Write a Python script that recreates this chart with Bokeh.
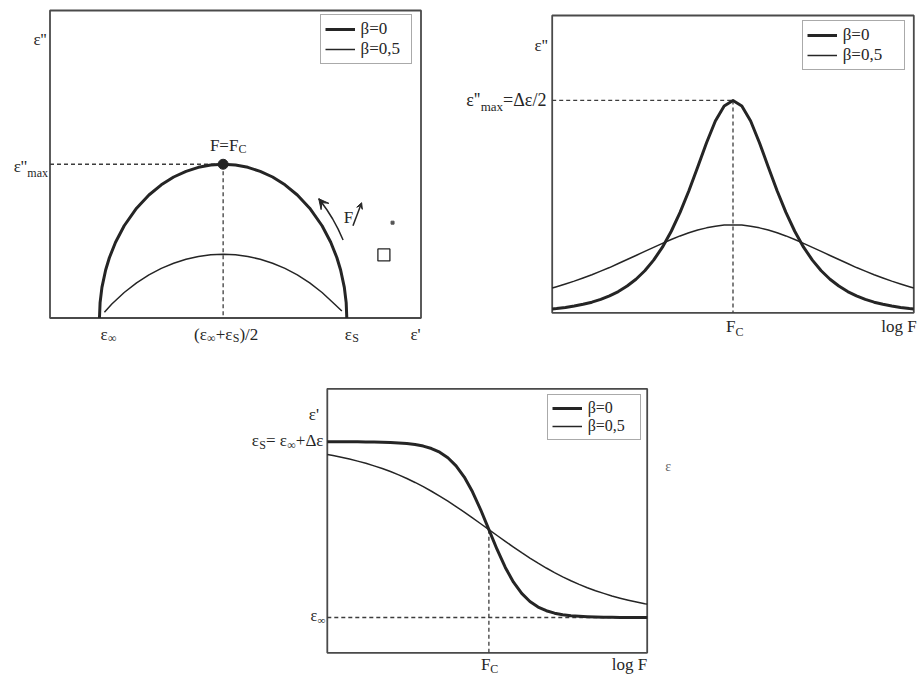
from bokeh.plotting import figure
from bokeh.models import Range1d, Label, Arrow, VeeHead, Spacer
from bokeh.layouts import column, row
from bokeh.embed import file_html
from bokeh.resources import INLINE

FONT = "Liberation Serif"
INK = "#252525"
TXT = "#262626"
FRAME = "#4a4a4a"
DASH = "#3c3c3c"

# ---------------- Panel 1 : Cole-Cole plot (eps'' vs eps') ----------------
eps_inf = 1.0
eps_s = 3.0
eps2_max = 1.0
cc_eps1_b0 = [1.00, 1.005, 1.02, 1.05, 1.08, 1.13, 1.20, 1.30, 1.40, 1.50, 1.60, 1.70, 1.80, 1.90, 2.00,
              2.10, 2.20, 2.30, 2.40, 2.50, 2.60, 2.70, 2.80, 2.87, 2.92, 2.95, 2.98, 2.995, 3.00]
cc_eps2_b0 = [0.000, 0.100, 0.199, 0.312, 0.392, 0.493, 0.600, 0.714, 0.800, 0.866, 0.917, 0.954, 0.980, 0.995, 1.000,
              0.995, 0.980, 0.954, 0.917, 0.866, 0.800, 0.714, 0.600, 0.493, 0.392, 0.312, 0.199, 0.100, 0.000]
cc_eps1_b05 = [1.04, 1.10, 1.20, 1.30, 1.40, 1.50, 1.60, 1.70, 1.80, 1.90, 2.00,
               2.10, 2.20, 2.30, 2.40, 2.50, 2.60, 2.70, 2.80, 2.90, 2.96]
cc_eps2_b05 = [0.038, 0.091, 0.166, 0.229, 0.281, 0.323, 0.356, 0.382, 0.400, 0.411, 0.414,
               0.411, 0.400, 0.382, 0.356, 0.323, 0.281, 0.229, 0.166, 0.091, 0.045]
arrow_eps1 = [2.970, 2.929, 2.886, 2.839, 2.788, 2.773]
arrow_eps2 = [0.507, 0.580, 0.644, 0.704, 0.761, 0.776]
f_arrow = [3.05, 0.60, 3.12, 0.75]
f_label = [2.975, 0.655]
square_mark = [3.30, 0.41]
tiny_mark = [3.37, 0.62]

# ---------------- Panel 2 : eps'' vs log F ----------------
logF2 = [-2.05, -2.0, -1.9, -1.8, -1.7, -1.6, -1.5, -1.4, -1.3, -1.2, -1.1, -1.0, -0.9, -0.8, -0.7, -0.6, -0.5,
         -0.4, -0.3, -0.2, -0.1, 0.0, 0.1, 0.2, 0.3, 0.4, 0.5, 0.6, 0.7, 0.8, 0.9, 1.0, 1.1, 1.2, 1.3, 1.4,
         1.5, 1.6, 1.7, 1.8, 1.9, 2.0, 2.05]
loss_b0 = [0.018, 0.020, 0.025, 0.032, 0.040, 0.050, 0.063, 0.080, 0.100, 0.126, 0.158, 0.198, 0.248, 0.309,
           0.384, 0.473, 0.575, 0.687, 0.801, 0.903, 0.974, 1.000, 0.974, 0.903, 0.801, 0.687, 0.575, 0.473,
           0.384, 0.309, 0.248, 0.198, 0.158, 0.126, 0.100, 0.080, 0.063, 0.050, 0.040, 0.032, 0.025, 0.020, 0.018]
loss_b05 = [0.117, 0.123, 0.136, 0.149, 0.164, 0.179, 0.196, 0.213, 0.232, 0.251, 0.270, 0.289, 0.308, 0.327,
            0.345, 0.362, 0.377, 0.390, 0.400, 0.408, 0.413, 0.414, 0.413, 0.408, 0.400, 0.390, 0.377, 0.362,
            0.345, 0.327, 0.308, 0.289, 0.270, 0.251, 0.232, 0.213, 0.196, 0.179, 0.164, 0.149, 0.136, 0.123, 0.117]

# ---------------- Panel 3 : eps' vs log F ----------------
logF3 = [-1.97, -1.9, -1.8, -1.7, -1.6, -1.5, -1.4, -1.3, -1.2, -1.1, -1.0, -0.9, -0.8, -0.7, -0.6, -0.5,
         -0.4, -0.3, -0.2, -0.1, 0.0, 0.1, 0.2, 0.3, 0.4, 0.5, 0.6, 0.7, 0.8, 0.9, 1.0, 1.1, 1.2, 1.3, 1.4,
         1.5, 1.6, 1.7, 1.8, 1.9, 1.93]
real_b0 = [3.000, 3.000, 2.999, 2.999, 2.999, 2.998, 2.997, 2.995, 2.992, 2.987, 2.980, 2.969, 2.951, 2.923,
           2.881, 2.818, 2.726, 2.598, 2.431, 2.226, 2.000, 1.774, 1.569, 1.402, 1.274, 1.182, 1.119, 1.077,
           1.049, 1.031, 1.020, 1.013, 1.008, 1.005, 1.003, 1.002, 1.001, 1.001, 1.001, 1.000, 1.000]
real_b05 = [2.855, 2.843, 2.824, 2.803, 2.780, 2.755, 2.726, 2.695, 2.661, 2.623, 2.582, 2.537, 2.489, 2.437,
            2.382, 2.324, 2.263, 2.199, 2.134, 2.067, 2.000, 1.933, 1.866, 1.801, 1.737, 1.676, 1.618, 1.563,
            1.511, 1.463, 1.418, 1.377, 1.339, 1.305, 1.274, 1.245, 1.220, 1.197, 1.176, 1.157, 1.152]
eps_s3 = 3.0
eps_inf3 = 1.0

legend_labels = ["\u03b2=0", "\u03b2=0,5"]

# approximate advance widths (em) of Liberation Serif
W = {"\u03b5": 0.44, "'": 0.18, "m": 0.778, "a": 0.444, "x": 0.5, "=": 0.564, "\u0394": 0.612,
     "/": 0.278, "2": 0.5, "(": 0.333, ")": 0.333, "+": 0.564, "\u221e": 0.713, "S": 0.556,
     "C": 0.667, "F": 0.556, " ": 0.25, "l": 0.278, "o": 0.5, "g": 0.5}


def tw(s, size):
    return sum(W.get(c, 0.5) for c in s) * size


def rich(p, x, y, parts, dx=0.0, dy=0.0, align="left", color=TXT):
    widths = [tw(t, s) for t, s, _ in parts]
    total = sum(widths)
    if align == "right":
        cur = dx - total
    elif align == "center":
        cur = dx - total / 2.0
    else:
        cur = dx
    for (t, s, sh), w in zip(parts, widths):
        p.add_layout(Label(x=x, y=y, x_offset=cur, y_offset=dy + sh, text=t, text_font=FONT,
                           text_font_size=f"{s}px", text_color=color, text_align="left",
                           text_baseline="alphabetic"))
        cur += w


def outer(lo, hi, a, b, size):
    # extend the panel's box range [lo, hi] (drawn from pixel a to b) to the whole canvas
    s = (hi - lo) / (b - a)
    return (lo - a * s, lo + (size - a) * s)


def make_fig(w, h, xbox, ybox, box_px):
    left, right, top, bottom = box_px
    xr = outer(xbox[0], xbox[1], left, right, w)
    yr = outer(ybox[0], ybox[1], h - bottom, h - top, h)
    p = figure(width=w, height=h, x_range=Range1d(*xr), y_range=Range1d(*yr), title=None,
               output_backend="svg", toolbar_location=None, x_axis_location=None, y_axis_location=None,
               min_border=0)
    p.outline_line_color = None
    p.background_fill_color = "white"
    p.border_fill_color = "white"
    p.grid.visible = False
    p.quad(left=[xbox[0]], right=[xbox[1]], bottom=[ybox[0]], top=[ybox[1]], fill_color=None,
           line_color=FRAME, line_width=1.8)
    return p


def style_legend(p, loc, font_size, label_width, pad, item_h, spacing):
    lg = p.legend[0]
    lg.location = loc
    lg.label_text_font = FONT
    lg.label_text_font_size = font_size
    lg.label_text_color = TXT
    lg.border_line_color = "#555555"
    lg.border_line_width = 1.2
    lg.background_fill_color = "white"
    lg.background_fill_alpha = 1.0
    lg.padding = pad
    lg.spacing = spacing
    lg.margin = 0
    lg.glyph_width = 30
    lg.glyph_height = item_h
    lg.label_height = item_h
    lg.label_width = label_width
    lg.label_standoff = 6


# ================= Panel 1 =================
x1b = (0.6, 3.6)
y1b = (0.0, 2.0)
p1 = make_fig(460, 350, x1b, y1b, (49.5, 420.5, 10, 317.5))
p1.line([x1b[0], 2.0], [eps2_max, eps2_max], line_dash="4 3", line_width=1.3, color=DASH)
p1.line([2.0, 2.0], [eps2_max, 0.0], line_dash="4 3", line_width=1.3, color=DASH)
p1.line(cc_eps1_b0, cc_eps2_b0, line_width=3, color=INK, line_join="round", legend_label=legend_labels[0])
p1.line(cc_eps1_b05, cc_eps2_b05, line_width=1.5, color=INK, line_join="round", legend_label=legend_labels[1])
p1.scatter([2.0], [eps2_max], size=10, color=INK)
p1.line(arrow_eps1, arrow_eps2, line_width=1.5, color=INK)
p1.add_layout(Arrow(end=VeeHead(size=10, fill_color=INK, line_color=INK), x_start=arrow_eps1[-2],
                    y_start=arrow_eps2[-2], x_end=arrow_eps1[-1], y_end=arrow_eps2[-1],
                    line_width=1.5, line_color=INK))
p1.add_layout(Arrow(end=VeeHead(size=6, fill_color=INK, line_color=INK), x_start=f_arrow[0],
                    y_start=f_arrow[1], x_end=f_arrow[2], y_end=f_arrow[3], line_width=1.5, line_color=INK))
p1.add_layout(Label(x=f_label[0], y=f_label[1], text="F", text_font=FONT, text_font_size="17px",
                    text_color=TXT, text_baseline="alphabetic"))
p1.scatter([square_mark[0]], [square_mark[1]], marker="square", size=12, fill_color=None,
           line_color=INK, line_width=1.3)
p1.scatter([tiny_mark[0]], [tiny_mark[1]], marker="square", size=3, color="#555555")
style_legend(p1, (319.5, 286), "17px", 46, 4, 18, 0)

rich(p1, x1b[0], y1b[1], [("\u03b5''", 17, 0)], dx=-3, dy=-29, align="right")
rich(p1, x1b[0], eps2_max, [("\u03b5''", 17, 0), ("max", 12, -7)], dx=-2, dy=-2, align="right")
rich(p1, 2.0, eps2_max, [("F=F", 17, 0), ("C", 12, -4)], dx=5, dy=19, align="center")
rich(p1, eps_inf, 0.0, [("\u03b5", 17, 0), ("\u221e", 12, -4)], dx=1, dy=-16)
rich(p1, 2.0, 0.0, [("(\u03b5", 17, 0), ("\u221e", 12, -4), ("+\u03b5", 17, 0), ("S", 12, -4), (")/2", 17, 0)],
     dx=3, dy=-16, align="center")
rich(p1, eps_s, 0.0, [("\u03b5", 17, 0), ("S", 12, -4)], dx=-2, dy=-16)
rich(p1, x1b[1], 0.0, [("\u03b5'", 17, 0)], dx=0, dy=-16, align="right")

# ================= Panel 2 =================
x2b = (-2.05, 2.05)
y2b = (0.0, 1.40)
p2 = make_fig(460, 350, x2b, y2b, (91.7, 453.3, 15, 312.3))
p2.line([x2b[0], 0.0], [1.0, 1.0], line_dash="4 3", line_width=1.3, color=DASH)
p2.line([0.0, 0.0], [1.0, 0.0], line_dash="4 3", line_width=1.3, color=DASH)
p2.line(logF2, loss_b0, line_width=3, color=INK, line_join="round", legend_label=legend_labels[0])
p2.line(logF2, loss_b05, line_width=1.5, color=INK, line_join="round", legend_label=legend_labels[1])
style_legend(p2, (341.7, 280), "17px", 57, 4, 18, 0)

rich(p2, x2b[0], y2b[1], [("\u03b5''", 17, 0)], dx=-4, dy=-30, align="right")
rich(p2, x2b[0], 1.0, [("\u03b5''", 18, 0), ("max", 13, -6), ("=\u0394\u03b5/2", 18, 0)],
     dx=-6, dy=0, align="right")
rich(p2, 0.0, 0.0, [("F", 17, 0), ("C", 12, -5)], dx=-7, dy=-14)
rich(p2, x2b[1], 0.0, [("log F", 17, 0)], dx=3, dy=-14, align="right")

# ================= Panel 3 =================
x3b = (-1.97, 1.93)
y3b = (0.598, 3.603)
p3 = make_fig(470, 331, x3b, y3b, (96.8, 416.7, 38.3, 302.3))
p3.line([x3b[0], x3b[1]], [eps_inf3, eps_inf3], line_dash="4 3", line_width=1.3, color=DASH)
p3.line([0.0, 0.0], [2.0, y3b[0]], line_dash="4 3", line_width=1.3, color=DASH)
p3.line(logF3, real_b0, line_width=3, color=INK, line_join="round", legend_label=legend_labels[0])
p3.line(logF3, real_b05, line_width=1.5, color=INK, line_join="round", legend_label=legend_labels[1])
style_legend(p3, (316.7, 241), "16px", 48, 4, 18, 0)

rich(p3, x3b[0], y3b[1], [("\u03b5'", 17, 0)], dx=-8, dy=-26, align="right")
rich(p3, x3b[0], eps_s3, [("\u03b5", 17, 0), ("S", 12, -4), ("= \u03b5", 17, 0), ("\u221e", 12, -4),
                          ("+\u0394\u03b5", 17, 0)], dx=-4, dy=1, align="right")
rich(p3, x3b[0], eps_inf3, [("\u03b5", 16, 0), ("\u221e", 11, -4)], dx=-2, dy=1.5, align="right")
rich(p3, 0.0, y3b[0], [("F", 17, 0), ("C", 12, -4)], dx=-8, dy=-12)
rich(p3, x3b[1], y3b[0], [("log F", 17, 0)], dx=0, dy=-12, align="right")
rich(p3, x3b[1], y3b[1], [("\u03b5", 14, 0)], dx=18, dy=-78, color="#666666")

layout = column(row(p1, p2), row(Spacer(width=230, height=331), p3))
open("out.html", "w").write(file_html(layout, INLINE))
